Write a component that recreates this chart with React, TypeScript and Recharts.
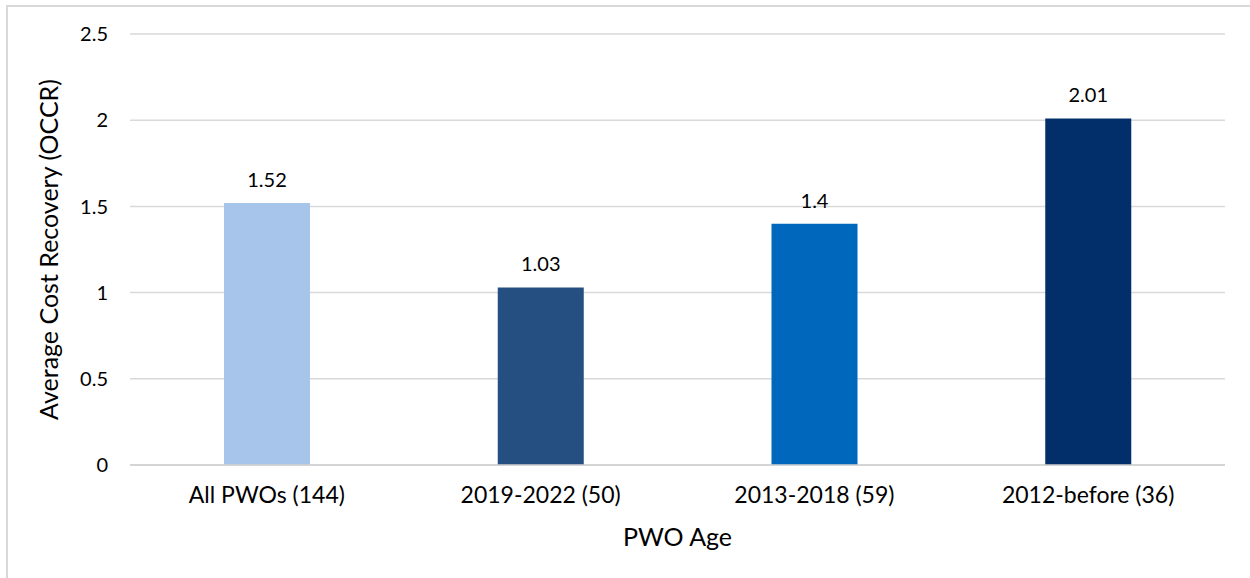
import { Bar, BarChart, CartesianGrid, Cell, LabelList, XAxis, YAxis, Label } from "recharts";

const categories = ["All PWOs (144)", "2019-2022 (50)", "2013-2018 (59)", "2012-before (36)"];
const occr = [1.52, 1.03, 1.4, 2.01];
const yTicks = [0, 0.5, 1, 1.5, 2, 2.5];
const COLORS = ["#A7C5EB", "#264F81", "#0068BC", "#022F69"];

const data = categories.map((name, i) => ({ name, value: occr[i] }));

const FONT = "Lato, 'Open Sans', sans-serif";

const YTitle = (props: any) => {
  const { viewBox } = props;
  const cx = viewBox.x + 48;
  const cy = viewBox.y + viewBox.height / 2;
  return (
    <text
      x={cx}
      y={cy}
      transform={`rotate(-90, ${cx}, ${cy})`}
      textAnchor="middle"
      dominantBaseline="central"
      fontFamily={FONT}
      fontSize={25}
      fill="#000"
    >
      Average Cost Recovery (OCCR)
    </text>
  );
};

const XTitle = (props: any) => {
  const { viewBox } = props;
  return (
    <text
      x={viewBox.x + viewBox.width / 2}
      y={viewBox.y + 81}
      textAnchor="middle"
      fontFamily={FONT}
      fontSize={25}
      fill="#000"
    >
      PWO Age
    </text>
  );
};

export default function App() {
  return (
    <div
      style={{
        position: "absolute",
        left: 0,
        top: 0,
        width: 1250,
        height: 578,
        overflow: "hidden",
        background: "#fff",
      }}
    >
      <div
        style={{
          position: "absolute",
          left: 6,
          top: 5,
          width: 1400,
          height: 700,
          border: "2px solid #d9d9d9",
        }}
      />
      <BarChart
        width={1250}
        height={578}
        data={data}
        margin={{ top: 34, right: 25, bottom: 53, left: 0 }}
        style={{ position: "absolute", left: 0, top: 0 }}
      >
        <CartesianGrid vertical={false} stroke="#d9d9d9" strokeWidth={1.5} />
        <XAxis
          dataKey="name"
          height={60}
          tickLine={false}
          tickSize={0}
          tickMargin={22}
          axisLine={{ stroke: "#d0d0d0", strokeWidth: 1.5 }}
          tick={{ fontFamily: FONT, fontSize: 23, fill: "#000" }}
        >
          <Label content={<XTitle />} />
        </XAxis>
        <YAxis
          width={130}
          domain={[0, 2.5]}
          ticks={yTicks}
          axisLine={false}
          tickLine={false}
          tickSize={0}
          tickMargin={22}
          tick={{ fontFamily: FONT, fontSize: 20, fill: "#000" }}
        >
          <Label content={<YTitle />} />
        </YAxis>
        <Bar dataKey="value" barSize={86} isAnimationActive={false}>
          {data.map((entry, index) => (
            <Cell key={`cell-${index}`} fill={COLORS[index % COLORS.length]} />
          ))}
          <LabelList
            dataKey="value"
            position="top"
            offset={16}
            style={{ fontFamily: FONT, fontSize: 20, fill: "#000" }}
          />
        </Bar>
      </BarChart>
    </div>
  );
}
